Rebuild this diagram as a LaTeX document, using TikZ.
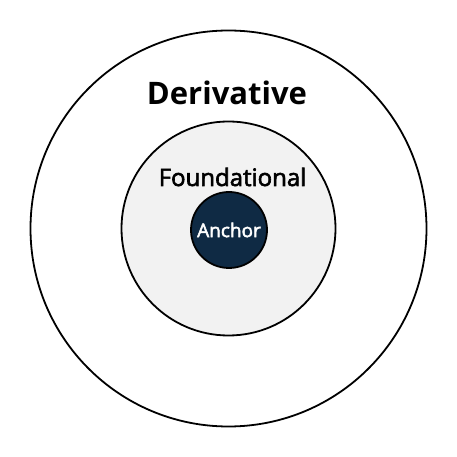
\documentclass[tikz,border=0pt]{standalone}
\usepackage{fontspec}
\setmainfont{Open Sans}
\newfontfamily\mediumfont{Open Sans}[FakeBold=2.5]
\definecolor{anchorblue}{HTML}{0F2A44}
\definecolor{foundgray}{HTML}{F2F2F2}

\begin{document}
\begin{tikzpicture}[x=1pt,y=1pt,ring/.style={circle,draw,line width=1.8pt,inner sep=0pt}]
\useasboundingbox (-228.5,-228.5) rectangle (228.5,228.5);
% outer ring
\node[ring,minimum size=396pt] (deriv) at (0,0) {};
% middle ring
\node[ring,minimum size=214pt,fill=foundgray] (found) at (0,0) {};
% core
\node[ring,minimum size=76pt,fill=anchorblue,text=white,font=\fontsize{19}{22}\mediumfont] (anchor) at (0.5,-1.5) {Anchor};

% labels
\node[font=\fontsize{31}{36}\selectfont\bfseries] (derivlabel) at (-1.5,135.5) {Derivative};
\node[font=\fontsize{24}{28}\mediumfont] (foundlabel) at (4,51.5) {Foundational};
\end{tikzpicture}
\end{document}
